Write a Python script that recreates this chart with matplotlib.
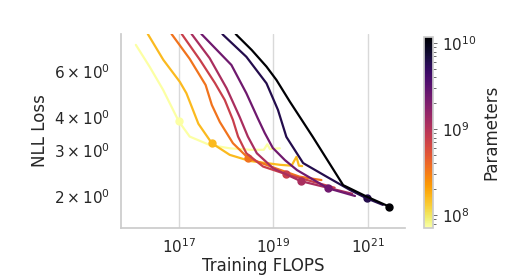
import numpy as np
import matplotlib
matplotlib.use("Agg")
import matplotlib.pyplot as plt
import seaborn as sns
from matplotlib.colors import LogNorm

# model sizes (parameters) for each curve
params = [7.2e7, 1.6e8, 3.5e8, 7.5e8, 1.15e9, 2.4e9, 6e9, 1.18e10]

# training FLOPS / NLL loss
flops = [
    [1.23e16, 2.4e16, 4.65e16, 1.0e17, 1.7e17, 4.5e17, 1.2e18, 3.2e18, 6.3e18, 7.5e18, 8.5e18, 1.38e19],
    [2.2e16, 4.7e16, 1.05e17, 1.45e17, 2.6e17, 5.0e17, 1.2e18, 3.2e18, 1.38e19, 2.45e19, 3.1e19, 3.5e19, 4.1e19],
    [7.0e16, 1.7e17, 3.7e17, 5.0e17, 7.4e17, 1.4e18, 2.95e18, 1.0e19, 3.6e19, 1.05e20],
    [1.15e17, 2.8e17, 5.8e17, 9.4e17, 1.4e18, 1.8e18, 2.7e18, 6.1e18, 1.9e19, 2.0e20],
    [1.86e17, 4.5e17, 1.03e18, 1.95e18, 2.9e18, 4.5e18, 1.0e19, 3.8e19, 4.7e20],
    [3.0e17, 1.3e18, 2.7e18, 4.7e18, 6.6e18, 9.8e18, 1.77e19, 3.2e19, 1.45e20, 5.4e20],
    [5.0e17, 8.7e17, 2.7e18, 7.2e18, 1.26e19, 1.9e19, 4.3e19, 1.35e20, 4.2e20, 9.5e20, 2.1e21],
    [9.4e17, 1.67e18, 3.5e18, 7.2e18, 1.17e19, 2.25e19, 6.9e19, 3.03e20, 9.5e20, 2.9e21],
]
loss = [
    [7.54, 6.23, 5.08, 3.85, 3.37, 3.13, 3.04, 3.0, 3.0, 3.15, 3.02, 3.04],
    [8.3, 6.61, 5.45, 4.93, 3.77, 3.18, 2.87, 2.72, 2.63, 2.61, 2.82, 2.61, 2.60],
    [8.3, 6.67, 5.30, 4.45, 3.83, 3.18, 2.79, 2.57, 2.37, 2.30],
    [8.3, 6.61, 5.40, 4.65, 3.90, 3.37, 2.91, 2.59, 2.42, 2.15],
    [8.3, 6.71, 5.15, 4.0, 3.37, 2.91, 2.55, 2.28, 2.04],
    [8.3, 6.32, 4.93, 3.96, 3.48, 3.05, 2.74, 2.51, 2.14, 2.0],
    [9.4, 8.23, 6.79, 5.38, 4.26, 3.36, 2.67, 2.37, 2.11, 1.96, 1.85],
    [9.4, 8.23, 7.21, 6.23, 5.54, 4.58, 3.36, 2.20, 1.99, 1.82],
]
# highlighted point on each curve
marker_flops = [1.0e17, 5.0e17, 2.95e18, 1.9e19, 3.8e19, 1.45e20, 9.5e20, 2.9e21]
marker_loss = [3.85, 3.18, 2.79, 2.42, 2.28, 2.14, 1.96, 1.82]

sns.set_theme(style="whitegrid", context="notebook")

fig = plt.figure(figsize=(5.14, 2.76), dpi=100)
ax = fig.add_axes([0.235, 0.174, 0.553, 0.703])
cax = fig.add_axes([0.825, 0.174, 0.0175, 0.692])

norm = LogNorm(vmin=7.1e7, vmax=1.18e10)
cmap = plt.get_cmap("inferno_r")

for p, fx, ly, mx, my in zip(params, flops, loss, marker_flops, marker_loss):
    c = cmap(norm(p))
    ax.plot(fx, ly, color=c, lw=1.6)
    ax.plot([mx], [my], "o", color=c, ms=5)

ax.set_xscale("log")
ax.set_yscale("log")
ax.set_xlim(5.9e15, 6.2e21)
ax.set_ylim(1.51, 8.3)
ax.set_xticks([1e17, 1e19, 1e21])
ax.xaxis.set_minor_locator(matplotlib.ticker.NullLocator())
ax.tick_params(axis="x", pad=0.5)
ax.grid(True, which="major", axis="x", color="#d9d9d9")
ax.grid(False, axis="y")
sns.despine(ax=ax)
ax.set_xlabel("Training FLOPS", labelpad=1)
ax.set_ylabel("NLL Loss")

sm = plt.cm.ScalarMappable(norm=norm, cmap=cmap)
cb = fig.colorbar(sm, cax=cax)
cb.set_label("Parameters", fontsize=12)
cb.outline.set_edgecolor("#cccccc")
cax.tick_params(which="both", right=True, length=3, width=0.6, color="#555555")
cax.tick_params(which="minor", length=2)

fig.savefig("out.png", dpi=100)
